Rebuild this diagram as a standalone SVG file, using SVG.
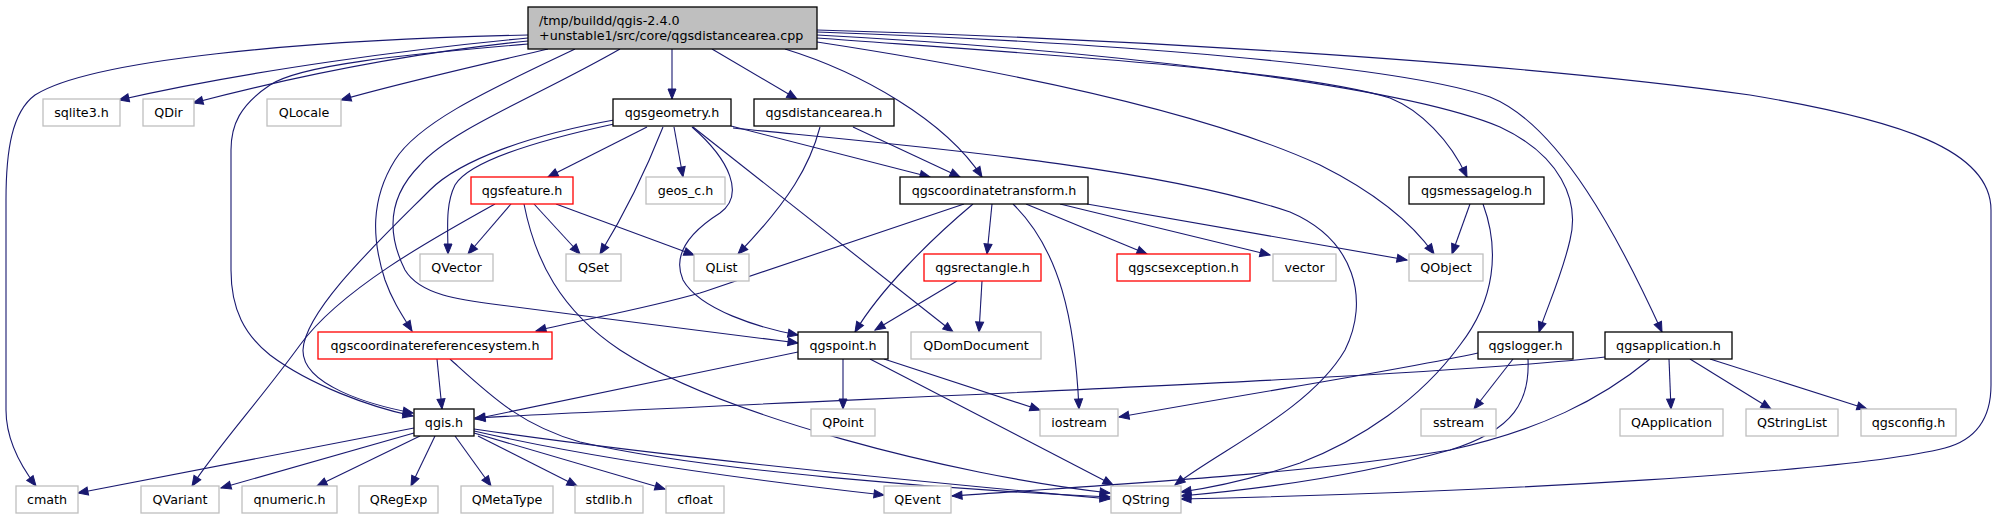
<svg xmlns="http://www.w3.org/2000/svg" width="2000" height="520" viewBox="0 0 2000 520">
<defs>
<style>
.n rect{fill:#fff;stroke:#000;stroke-width:1.3}
.x rect{stroke:#bfbfbf}
.r rect{stroke:#ff0000}
#root rect{fill:#bfbfbf}
text{font-family:"DejaVu Sans",sans-serif;font-size:12.7px;text-anchor:middle;fill:#000}
#root text{text-anchor:start}
#edges path{fill:none;stroke:#191970;stroke-width:1.1;marker-end:url(#a)}
</style>
<marker id="a" markerUnits="userSpaceOnUse" markerWidth="11" markerHeight="8" refX="10" refY="4" orient="auto" overflow="visible">
<path d="M0,0 L10,4 L0,8 z" fill="#191970" stroke="#191970" stroke-width="1"/>
</marker>
</defs>
<rect width="2000" height="520" fill="#fff"/>
<g id="edges">
<path d="M528,35 C300,40 90,60 35,95 C12,112 6,150 6,200 L6,410 C6,440 20,465 36,486"/>
<path d="M528,38 C420,48 250,70 119,100"/>
<path d="M528,41 C420,52 300,75 193,103"/>
<path d="M548,49 C480,65 400,83 341,100"/>
<path d="M528,44 C400,55 300,65 270,85 C240,105 231,125 231,150 L231,270 C231,310 245,335 270,355 C310,385 370,407 413,416"/>
<path d="M575,49 C500,85 420,120 395,160 C370,200 372,240 385,280 C392,300 402,315 412,331"/>
<path d="M620,49 C540,95 450,130 420,165 C390,195 385,230 405,270 C420,295 460,300 500,305 C600,318 720,333 798,343"/>
<path d="M672,49 L672,99"/>
<path d="M712,49 L797,99"/>
<path d="M785,49 C860,72 945,120 982,177"/>
<path d="M817,42 C1000,70 1200,110 1320,165 C1370,190 1410,220 1434,254"/>
<path d="M817,38 C1050,55 1300,70 1390,98 C1420,110 1450,140 1467,177"/>
<path d="M817,35 C1100,50 1400,85 1500,127 C1560,155 1580,200 1570,240 C1562,275 1548,305 1539,332"/>
<path d="M817,32 C1100,42 1400,65 1490,97 C1560,125 1620,240 1662,332"/>
<path d="M817,30 C1100,38 1500,60 1750,95 C1900,120 1991,150 1991,210 L1991,385 C1991,420 1975,440 1945,448 C1850,472 1500,492 1181,499"/>
<path d="M647,127 L548,177"/>
<path d="M674,127 L683,177"/>
<path d="M731,126 L930,177"/>
<path d="M733,128 C900,145 1150,165 1290,212 C1355,240 1370,300 1345,350 C1310,410 1220,450 1175,485"/>
<path d="M614,124 C540,140 470,160 455,185 C445,205 448,230 448,254"/>
<path d="M614,120 C530,135 460,160 430,190 C380,240 305,310 303,350 C302,385 370,405 413,413"/>
<path d="M663,127 C650,160 630,205 600,254"/>
<path d="M693,127 L953,332"/>
<path d="M692,127 C730,160 745,195 720,213 C690,232 672,255 683,280 C700,310 760,328 798,335"/>
<path d="M820,127 C810,165 790,200 738,254"/>
<path d="M853,127 L960,177"/>
<path d="M511,204 L468,254"/>
<path d="M534,204 L580,254"/>
<path d="M556,204 L694,255"/>
<path d="M495,204 C430,240 340,290 300,345 C260,400 215,450 192,486"/>
<path d="M524,204 C535,260 560,310 620,350 C720,415 950,475 1110,493"/>
<path d="M964,204 C900,225 800,260 700,293 C640,310 580,320 536,331"/>
<path d="M973,204 C930,240 880,290 855,332"/>
<path d="M992,204 L987,254"/>
<path d="M1013,204 C1060,250 1075,320 1079,409"/>
<path d="M1026,204 L1147,254"/>
<path d="M1060,204 L1270,255"/>
<path d="M1087,204 L1407,260"/>
<path d="M957,281 L875,330"/>
<path d="M982,281 L979,332"/>
<path d="M1470,204 L1452,254"/>
<path d="M1483,204 C1500,250 1495,300 1460,345 C1420,400 1360,440 1300,463 C1250,480 1210,488 1181,492"/>
<path d="M798,352 L475,419"/>
<path d="M843,359 L843,409"/>
<path d="M884,359 L1040,410"/>
<path d="M870,359 L1113,485"/>
<path d="M437,359 L442,409"/>
<path d="M450,359 C490,395 520,425 580,442 C700,470 950,490 1110,497"/>
<path d="M414,428 L78,493"/>
<path d="M414,433 L221,488"/>
<path d="M420,436 L317,486"/>
<path d="M435,436 L411,486"/>
<path d="M455,436 L491,486"/>
<path d="M478,436 L577,486"/>
<path d="M474,433 L665,489"/>
<path d="M474,431 C600,460 750,480 884,495"/>
<path d="M474,429 C650,455 900,480 1110,499"/>
<path d="M1513,359 L1474,409"/>
<path d="M1478,353 C1400,370 1300,385 1119,417"/>
<path d="M1528,359 C1530,400 1515,430 1450,450 C1350,478 1250,490 1181,496"/>
<path d="M1605,357 C1400,380 800,400 475,418"/>
<path d="M1650,359 C1600,400 1540,430 1450,450 C1300,475 1100,485 952,496"/>
<path d="M1669,359 L1671,409"/>
<path d="M1690,359 L1771,409"/>
<path d="M1710,359 L1867,409"/>
</g>
<g id="root" class="n"><rect x="528" y="7" width="289" height="42"/><text x="539" y="24.5">/tmp/buildd/qgis-2.4.0</text><text x="539" y="39.5">+unstable1/src/core/qgsdistancearea.cpp</text></g>
<g id="sqlite3" class="n x"><rect x="43" y="99" width="77" height="27"/><text x="81.5" y="117.3">sqlite3.h</text></g>
<g id="QDir" class="n x"><rect x="143" y="99" width="51" height="27"/><text x="168.5" y="117.3">QDir</text></g>
<g id="QLocale" class="n x"><rect x="267" y="99" width="74" height="27"/><text x="304" y="117.3">QLocale</text></g>
<g id="qgsgeometry" class="n"><rect x="613" y="99" width="118" height="27"/><text x="672" y="117.3">qgsgeometry.h</text></g>
<g id="qgsdistancearea" class="n"><rect x="754" y="99" width="140" height="27"/><text x="824" y="117.3">qgsdistancearea.h</text></g>
<g id="qgsfeature" class="n r"><rect x="471" y="177" width="102" height="27"/><text x="522" y="195.3">qgsfeature.h</text></g>
<g id="geos_c" class="n x"><rect x="646" y="177" width="79" height="27"/><text x="685.5" y="195.3">geos_c.h</text></g>
<g id="qgscoordinatetransform" class="n"><rect x="900" y="177" width="188" height="27"/><text x="994" y="195.3">qgscoordinatetransform.h</text></g>
<g id="qgsmessagelog" class="n"><rect x="1409" y="177" width="135" height="27"/><text x="1476.5" y="195.3">qgsmessagelog.h</text></g>
<g id="QVector" class="n x"><rect x="420" y="254" width="73" height="27"/><text x="456.5" y="272.3">QVector</text></g>
<g id="QSet" class="n x"><rect x="566" y="254" width="55" height="27"/><text x="593.5" y="272.3">QSet</text></g>
<g id="QList" class="n x"><rect x="694" y="254" width="55" height="27"/><text x="721.5" y="272.3">QList</text></g>
<g id="qgsrectangle" class="n r"><rect x="924" y="254" width="117" height="27"/><text x="982.5" y="272.3">qgsrectangle.h</text></g>
<g id="qgscsexception" class="n r"><rect x="1117" y="254" width="133" height="27"/><text x="1183.5" y="272.3">qgscsexception.h</text></g>
<g id="vector" class="n x"><rect x="1273" y="254" width="63" height="27"/><text x="1304.5" y="272.3">vector</text></g>
<g id="QObject" class="n x"><rect x="1409" y="254" width="74" height="27"/><text x="1446" y="272.3">QObject</text></g>
<g id="qgscoordinatereferencesystem" class="n r"><rect x="318" y="332" width="234" height="27"/><text x="435" y="350.3">qgscoordinatereferencesystem.h</text></g>
<g id="qgspoint" class="n"><rect x="798" y="332" width="90" height="27"/><text x="843" y="350.3">qgspoint.h</text></g>
<g id="QDomDocument" class="n x"><rect x="911" y="332" width="130" height="27"/><text x="976" y="350.3">QDomDocument</text></g>
<g id="qgslogger" class="n"><rect x="1478" y="332" width="95" height="27"/><text x="1525.5" y="350.3">qgslogger.h</text></g>
<g id="qgsapplication" class="n"><rect x="1605" y="332" width="127" height="27"/><text x="1668.5" y="350.3">qgsapplication.h</text></g>
<g id="qgis" class="n"><rect x="414" y="409" width="60" height="27"/><text x="444" y="427.3">qgis.h</text></g>
<g id="QPoint" class="n x"><rect x="811" y="409" width="64" height="27"/><text x="843" y="427.3">QPoint</text></g>
<g id="iostream" class="n x"><rect x="1040" y="409" width="78" height="27"/><text x="1079" y="427.3">iostream</text></g>
<g id="sstream" class="n x"><rect x="1421" y="409" width="75" height="27"/><text x="1458.5" y="427.3">sstream</text></g>
<g id="QApplication" class="n x"><rect x="1620" y="409" width="103" height="27"/><text x="1671.5" y="427.3">QApplication</text></g>
<g id="QStringList" class="n x"><rect x="1746" y="409" width="92" height="27"/><text x="1792" y="427.3">QStringList</text></g>
<g id="qgsconfig" class="n x"><rect x="1861" y="409" width="95" height="27"/><text x="1908.5" y="427.3">qgsconfig.h</text></g>
<g id="cmath" class="n x"><rect x="16" y="486" width="62" height="27"/><text x="47" y="504.3">cmath</text></g>
<g id="QVariant" class="n x"><rect x="141" y="486" width="78" height="27"/><text x="180" y="504.3">QVariant</text></g>
<g id="qnumeric" class="n x"><rect x="242" y="486" width="95" height="27"/><text x="289.5" y="504.3">qnumeric.h</text></g>
<g id="QRegExp" class="n x"><rect x="359" y="486" width="79" height="27"/><text x="398.5" y="504.3">QRegExp</text></g>
<g id="QMetaType" class="n x"><rect x="461" y="486" width="92" height="27"/><text x="507" y="504.3">QMetaType</text></g>
<g id="stdlib" class="n x"><rect x="575" y="486" width="68" height="27"/><text x="609" y="504.3">stdlib.h</text></g>
<g id="cfloat" class="n x"><rect x="666" y="486" width="58" height="27"/><text x="695" y="504.3">cfloat</text></g>
<g id="QEvent" class="n x"><rect x="884" y="486" width="67" height="27"/><text x="917.5" y="504.3">QEvent</text></g>
<g id="QString" class="n x"><rect x="1111" y="486" width="70" height="27"/><text x="1146" y="504.3">QString</text></g>
</svg>
